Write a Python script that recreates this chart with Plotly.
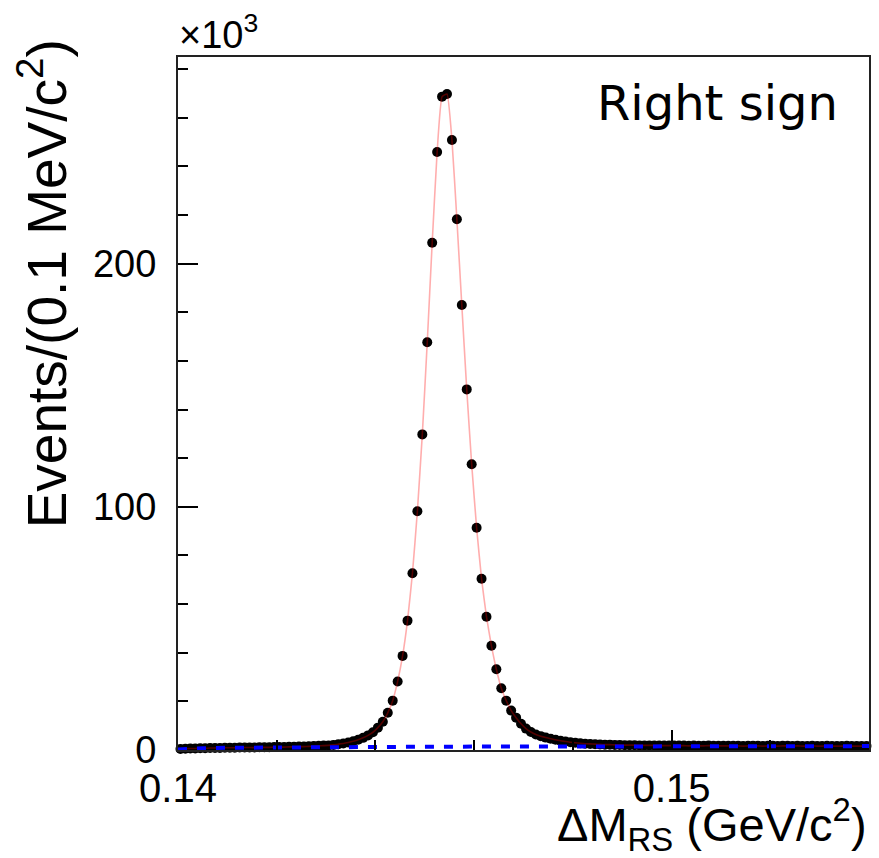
import numpy as np
import plotly.graph_objects as go

# Delta-M histogram for right-sign candidates: 0.1 MeV/c^2 bins from 0.140 GeV/c^2
bin_lo = 0.140
bin_width = 0.0001

# Events per bin, in units of 10^3
events_k = [
    0.4, 0.5, 0.6, 0.6, 0.7, 0.7, 0.8, 0.8, 0.8, 0.9,
    0.9, 0.9, 1.0, 1.0, 1.0, 1.0, 1.1, 1.1, 1.1, 1.2,
    1.2, 1.2, 1.3, 1.3, 1.4, 1.4, 1.5, 1.6, 1.7, 1.8,
    1.9, 2.1, 2.4, 2.7, 3.1, 3.6, 4.2, 5.0, 6.0, 7.3,
    9.2, 11.6, 15.3, 20.3, 28.2, 38.7, 53.2, 72.7, 98.2, 129.8,
    167.7, 208.6, 245.9, 268.7, 269.8, 250.9, 218.3, 183.0, 148.3, 117.5,
    91.4, 70.4, 54.8, 42.9, 33.2, 25.4, 20.3, 16.2, 13.3, 10.8,
    8.8, 7.4, 6.4, 5.7, 5.1, 4.6, 4.2, 3.8, 3.5, 3.2,
    3.0, 2.8, 2.6, 2.5, 2.4, 2.3, 2.2, 2.2, 2.1, 2.1,
    2.0, 2.0, 2.0, 1.9, 1.9, 1.9, 1.9, 1.8, 1.8, 1.8,
    1.8, 1.8, 1.8, 1.7, 1.8, 1.7, 1.7, 1.8, 1.7, 1.7,
    1.7, 1.7, 1.7, 1.7, 1.6, 1.7, 1.7, 1.7, 1.6, 1.7,
    1.7, 1.6, 1.7, 1.7, 1.6, 1.7, 1.6, 1.6, 1.7, 1.6,
    1.6, 1.7, 1.6, 1.6, 1.6, 1.7, 1.6, 1.6, 1.6, 1.6,
]

# Background component of the fit (units of 10^3)
bkg_x = [0.1400, 0.1402, 0.1405, 0.1410, 0.1420, 0.1430, 0.1440, 0.1450, 0.1460,
         0.1470, 0.1480, 0.1490, 0.1500, 0.1510, 0.1520, 0.1530, 0.1540]
bkg_k = [0.2, 0.5, 0.7, 0.9, 1.1, 1.2, 1.3, 1.35, 1.4,
         1.45, 1.5, 1.5, 1.55, 1.55, 1.6, 1.6, 1.6]

x_tick_vals = [0.14, 0.15]
x_tick_text = ["0.14", "0.15"]
y_tick_vals = [0, 100, 200]
y_tick_text = ["0", "100", "200"]

centers = bin_lo + bin_width * (np.arange(len(events_k)) + 0.5)

fig = go.Figure()

# data points
fig.add_trace(go.Scatter(
    x=centers, y=events_k, mode="markers",
    marker=dict(color="black", size=10, line=dict(width=0)),
    cliponaxis=False, showlegend=False,
))

# total fit
fig.add_trace(go.Scatter(
    x=centers, y=events_k, mode="lines",
    line=dict(color="rgba(255,0,0,0.32)", width=1.6, shape="spline", smoothing=0.4),
    showlegend=False,
))

# background
fig.add_trace(go.Scatter(
    x=bkg_x, y=bkg_k, mode="lines",
    line=dict(color="#0000ff", width=4, dash="9px,10px"),
    showlegend=False,
))

sans = "Liberation Sans, Arial, Helvetica, sans-serif"

fig.update_xaxes(
    range=[0.140, 0.154],
    tickmode="array", tickvals=x_tick_vals, ticktext=x_tick_text,
    ticks="inside", ticklen=20, tickwidth=1.5, tickcolor="black",
    minor=dict(tickmode="array", tickvals=list(np.arange(0.142, 0.1535, 0.002)),
               ticks="inside", ticklen=10, tickwidth=1.5, tickcolor="black"),
    showline=True, linecolor="#222", linewidth=2, mirror=True,
    showgrid=False, zeroline=False,
    tickfont=dict(family=sans, size=40, color="black"), ticklabelstandoff=2,
)
fig.update_yaxes(
    range=[0, 285],
    tickmode="array", tickvals=y_tick_vals, ticktext=y_tick_text,
    ticks="inside", ticklen=20, tickwidth=1.5, tickcolor="black",
    minor=dict(tickmode="linear", tick0=0, dtick=20,
               ticks="inside", ticklen=10, tickwidth=1.5, tickcolor="black"),
    showline=True, linecolor="#222", linewidth=2, mirror=True,
    showgrid=False, zeroline=False,
    tickfont=dict(family=sans, size=38, color="black"), ticklabelstandoff=12,
)

fig.update_layout(
    width=879, height=858,
    margin=dict(l=178, r=8, t=57, b=108),
    paper_bgcolor="white", plot_bgcolor="white",
    annotations=[
        dict(text="Events/(0.1 MeV/c<sup>2</sup>)", textangle=-90,
             xref="paper", yref="paper", x=-0.195, y=1.028,
             xanchor="center", yanchor="top", showarrow=False,
             font=dict(family=sans, size=55, color="black")),
        dict(text="ΔM<sub>RS</sub> (GeV/c<sup>2</sup>)",
             xref="paper", yref="paper", x=1.0, y=-0.107,
             xanchor="right", yanchor="middle", showarrow=False,
             font=dict(family=sans, size=47, color="black")),
        dict(text="×10<sup>3</sup>",
             xref="paper", yref="paper", x=0.0, y=1.0,
             xanchor="left", yanchor="bottom", showarrow=False, borderpad=0,
             font=dict(family=sans, size=38, color="black")),
        dict(text="Right sign",
             xref="paper", yref="paper", x=0.781, y=0.934,
             xanchor="center", yanchor="middle", showarrow=False,
             font=dict(family="Comic Sans MS, DejaVu Sans, sans-serif", size=48, color="black")),
    ],
)

fig.write_html("out.html")
